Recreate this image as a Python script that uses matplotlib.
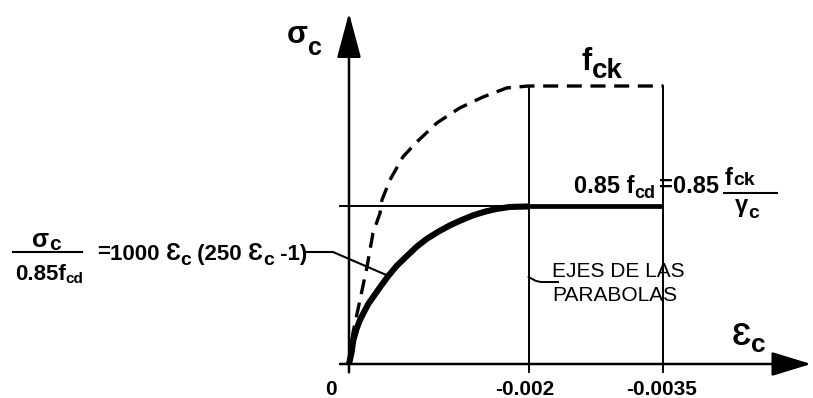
import matplotlib
matplotlib.use("Agg")
import matplotlib.pyplot as plt
from matplotlib.transforms import Affine2D

# Parabola-rectangle diagram for concrete in compression
# strain (negative = shortening) and stress normalised by f_ck
fck = 1.0
gamma_c = 1.5
fcd_level = 0.85 * fck / gamma_c

eps_peak = -0.002
eps_ult = -0.0035
tick_strains = [0.0, -0.002, -0.0035]
tick_labels = ["0", "-0.002", "-0.0035"]

# design curve (solid): parabola up to eps_peak
design_eps = [0.0, -0.00003, -0.000048, -0.000086, -0.000122, -0.000159,
              -0.000215, -0.000271, -0.000345, -0.000438, -0.000531,
              -0.000643, -0.000754, -0.000865, -0.000995, -0.001125,
              -0.001255, -0.001384, -0.001514, -0.001645, -0.001793,
              -0.002]
design_sigma = [0.0, 0.044, 0.086, 0.128, 0.158, 0.182,
                0.216, 0.242, 0.276, 0.317, 0.353,
                0.388, 0.422, 0.450, 0.476, 0.499,
                0.518, 0.535, 0.548, 0.558, 0.565,
                fcd_level]

# characteristic curve (dashed)
char_eps = [0.0, -0.000044, -0.000122, -0.0002, -0.000267, -0.000345,
            -0.000367, -0.000456, -0.0006, -0.000756, -0.000978, -0.001233,
            -0.001489, -0.001756, -0.002]
char_sigma = [0.0, 0.112, 0.230, 0.349, 0.471, 0.542,
              0.590, 0.662, 0.745, 0.799, 0.867, 0.921,
              0.960, 0.993, fck]

FAM = ["Liberation Sans", "DejaVu Sans"]
W, H = 813, 398
fig = plt.figure(figsize=(W / 100, H / 100), dpi=100)
ax = fig.add_axes([0, 0, 1, 1])
ax.set_axis_off()

SX, SY = 89800.0, 278.0      # pixels per unit strain / per f_ck
X0, Y0 = 349.0, 364.0        # origin position
ax.set_xlim(X0 / SX, -(W - X0) / SX)
ax.set_ylim(-(H - Y0) / SY, Y0 / SY)

PX = Affine2D().scale(1, -1).translate(0, H)   # top-left pixel frame


def p2d(x, y):
    return (X0 - x) / SX, (Y0 - y) / SY


below = -0.03
K = "black"

# coordinate axes with arrow heads
ax.annotate("", xy=(0, p2d(0, 13)[1]), xytext=(0, below),
            arrowprops=dict(arrowstyle="-|>,head_length=2.8,head_width=0.75",
                            lw=1.8, color=K, shrinkA=0, shrinkB=0,
                            mutation_scale=10))
ax.annotate("", xy=(p2d(811, 0)[0], 0), xytext=(p2d(340, 0)[0], 0),
            arrowprops=dict(arrowstyle="-|>,head_length=2.45,head_width=0.75",
                            lw=1.8, color=K, shrinkA=0, shrinkB=0,
                            mutation_scale=10))

# parabola axes
for e in (eps_peak, eps_ult):
    ax.plot([e, e], [below, fck], color=K, lw=1.4)

# design level
ax.plot([p2d(340, 0)[0], eps_ult], [fcd_level, fcd_level], color=K, lw=1.4)
ax.plot([eps_peak, eps_ult], [fcd_level, fcd_level], color=K, lw=3.4,
        solid_capstyle="butt")
ax.plot(design_eps, design_sigma, color=K, lw=4.4,
        solid_joinstyle="round", solid_capstyle="butt")

# characteristic curve
ax.plot(char_eps + [eps_ult], char_sigma + [fck], color=K, lw=2.4,
        dashes=(4.5, 2.6))

# tick labels
tick_dx = [-18, -4, -2]
for e, lab, dx in zip(tick_strains, tick_labels, tick_dx):
    x = X0 - e * SX + dx
    ax.text(x, 395, lab, transform=PX, ha="center", va="baseline",
            fontsize=15, fontweight="bold", family=FAM)

R = fig.canvas.get_renderer()


def run(x, y, parts, weight="bold"):
    for s, size, dy in parts:
        t = ax.text(x, y + dy, s, transform=PX, fontsize=size,
                    fontweight=weight, family=FAM, va="baseline", ha="left")
        x += t.get_window_extent(R).width
    return x


# axis titles
run(287, 43, [("σ", 22, 0), ("c", 18, 12)])
run(732, 345, [("Ɛ", 22, 0), ("c", 19, 7)])
run(582, 70, [("f", 22, 0), ("ck", 20, 8)])

# right-hand formula
run(574, 193, [("0.85 f", 17, 0), ("cd", 13, 5)])
run(659, 193, [("=", 17, -1), ("0.85 ", 17, 0)])
run(725, 185, [("f", 17, 0), ("ck", 14, 0)])
ax.plot([724, 777], [193, 193], color=K, lw=1.5, transform=PX)
run(735, 212, [("γ", 17, 0), ("c", 14, 6)])

# left-hand formula
run(32, 247, [("σ", 18, 0), ("c", 15, 3)])
ax.plot([13, 82], [252, 252], color=K, lw=1.5, transform=PX)
run(15, 280, [("0.85f", 16, 0), ("cd", 11, 3)])
run(97, 260, [("=", 16, -2), ("1000 ", 16, 0), ("Ɛ", 17, 0), ("c", 14, 5),
              (" (250 ", 16, 0), ("Ɛ", 17, 0), ("c", 14, 5), (" -1)", 16, 0)])
lead = [p2d(305, 252), p2d(333, 252), (design_eps[9], design_sigma[9])]
ax.plot([p[0] for p in lead], [p[1] for p in lead], color=K, lw=1.5)

# parabola-axes note
run(552, 277, [("EJES DE LAS", 15, 0)], weight="normal")
run(552, 301, [("PARABOLAS", 15, 0)], weight="normal")
hook = [(eps_peak, p2d(0, 277)[1]), p2d(536, 281), p2d(541, 282), p2d(558, 282)]
ax.plot([p[0] for p in hook], [p[1] for p in hook], color=K, lw=1.4)

fig.savefig("out.png", dpi=100)
